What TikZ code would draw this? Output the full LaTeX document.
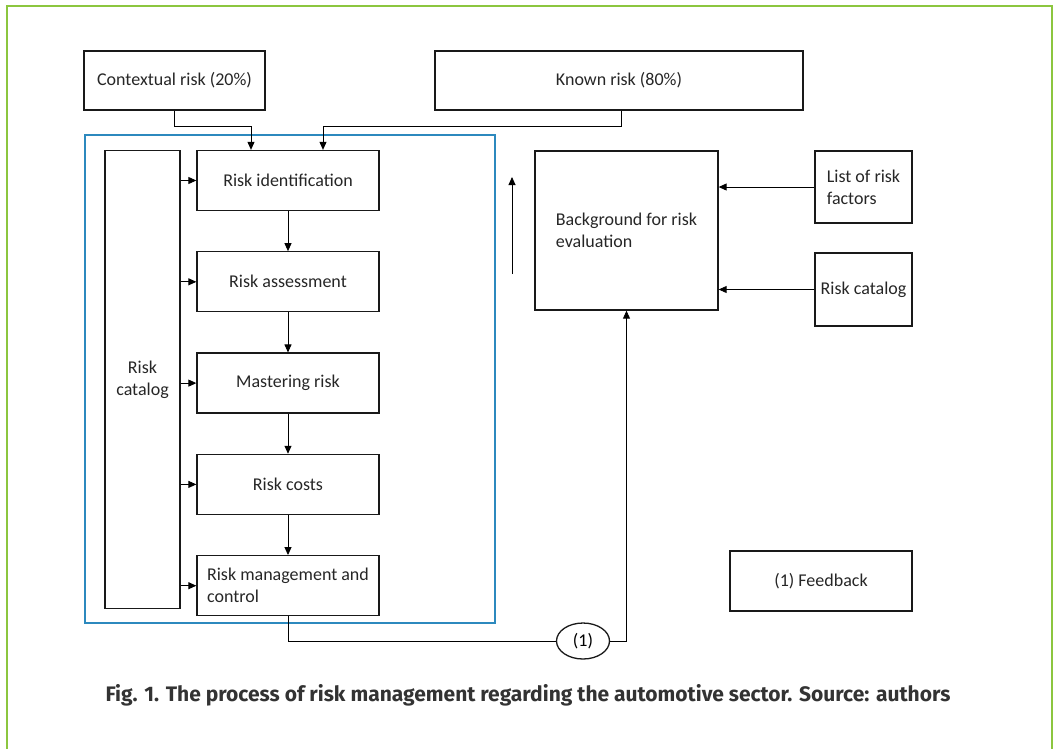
\documentclass[tikz,border=0pt]{standalone}
\usepackage{fontspec}
\setmainfont{Carlito}
\newfontfamily\capfont{Fira Sans}
\usepackage{xcolor}
\definecolor{framegreen}{HTML}{8CC63F}
\definecolor{groupblue}{HTML}{2C89BE}
\definecolor{captiongray}{HTML}{333333}
\usetikzlibrary{positioning, shapes.geometric, arrows.meta}

\begin{document}
\begin{tikzpicture}[x=1pt,y=-1pt,
                  font=\fontsize{18}{22}\selectfont,
                  box/.style={rectangle,draw=black!90,line width=1.3pt,inner sep=0pt,
                    text=black!85},
                  stepbox/.style={box,minimum width=182pt,minimum height=60pt},
                  sidebox/.style={box,minimum width=97pt,minimum height=73pt},
                  post/.style={->,>={Triangle[length=8pt,width=7pt]},line width=0.9pt},
                  link/.style={line width=0.9pt}
                  ]
                  \useasboundingbox (0,0) rectangle (1056,748);
                  \draw[framegreen,line width=2pt] (7,760) -- (7,6) -- (1052,6) -- (1052,760);
                  \draw[groupblue,line width=1.8pt] (85,135) rectangle (495,623);

                  \node[box,minimum width=181pt,minimum height=59pt] (ctx) at (174.5,80.5) {Contextual risk (20\%)};
                  \node[box,minimum width=368pt,minimum height=59pt] (known) at (619,80.5) {Known risk (80\%)};

                  \node[stepbox] (ident) at (288,180.5) {Risk identification};
                  \node[stepbox] (assess) [below=40pt of ident] {Risk assessment};
                  \node[stepbox] (master) [below=40pt of assess] {Mastering risk};
                  \node[stepbox] (costs) [below=40pt of master] {Risk costs};
                  \node[stepbox,align=left] (control) [below=40pt of costs]
                    {Risk management and\\control};
                  \node[box,minimum width=75pt,minimum height=458pt,align=center] (catL) at (142.5,379.5)
                    {Risk\\catalog};

                  \node[box,minimum width=183pt,minimum height=159pt,align=left] (bg) at (626.5,230.5)
                    {Background for risk\\evaluation};
                  \node[sidebox,minimum height=72pt,align=left] (list)
                    at (863.5,187) {List of risk\\factors};
                  \node[sidebox] (catR) at (863.5,289.5) {Risk catalog};
                  \node[stepbox] (note) at (821,581) {(1) Feedback};
                  \node[ellipse,draw=black!90,line width=1.3pt,minimum width=53pt,minimum height=36pt,
                    inner sep=0pt] (fb) at (583,641) {(1)};

                  \coordinate (upA) at (512,274);
                  \coordinate (upB) at (512,177);

                  \draw[post] (ctx.south) |- (251,126) -- ([xshift=-37pt]ident.north);
                  \draw[post] ([xshift=2pt]known.south) |- (323,126) -- ([xshift=35pt]ident.north);
                  \foreach \s in {ident,assess,master,costs,control}
                    \draw[post] (catL.east |- \s.west) -- (\s.west);
                  \draw[post] (ident) -- (assess);
                  \draw[post] (assess) -- (master);
                  \draw[post] (master) -- (costs);
                  \draw[post] (costs) -- (control);
                  \draw[link] (control.south) |- (fb.west);
                  \draw[post] (fb.east) -| (bg.south);
                  \draw[post] (upA) -- (upB);
                  \draw[post] (list.west) -- (bg.east |- list.west);
                  \draw[post] (catR.west) -- (bg.east |- catR.west);

                  \node[font=\capfont\bfseries\fontsize{21}{24}\selectfont,text=captiongray] (caption)
                    at (528,695) {Fig. 1. The process of risk management regarding the automotive sector. Source: authors};
                \end{tikzpicture}
\end{document}
